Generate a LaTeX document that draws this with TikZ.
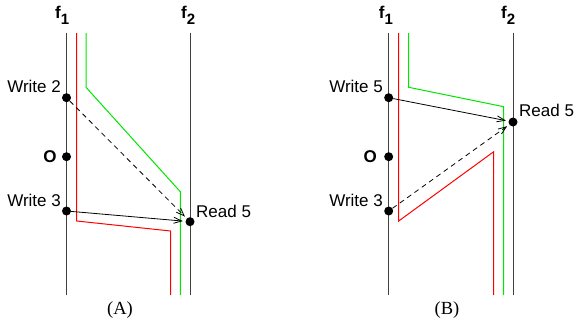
\documentclass[tikz,border=0pt]{standalone}
\usepackage{fontspec}
\setmainfont{Liberation Sans}
\newfontfamily\capfont{Liberation Serif}
\usetikzlibrary{arrows.meta}
\definecolor{tracered}{RGB}{255,0,0}
\definecolor{tracegreen}{RGB}{0,230,0}
\begin{document}
\begin{tikzpicture}[x=1pt,y=-1pt,
  procline/.style={draw=black!75,line width=1pt},
  redpath/.style={draw=tracered,line width=1pt},
  greenpath/.style={draw=tracegreen,line width=1pt},
  event/.style={circle,fill=black,inner sep=0pt,minimum size=9pt},
  lbl/.style={inner sep=0pt,font=\fontsize{17}{18}\selectfont},
  flbl/.style={inner sep=0pt,anchor=base west,font=\fontsize{17}{18}\selectfont\bfseries},
  panelcap/.style={inner sep=0pt,anchor=base,font=\fontsize{18.5}{20}\selectfont\capfont},
  msg/.style={draw=black,line width=0.8pt,shorten >=2.5pt,
    -{Straight Barb[length=8pt,width=6pt]}},
  msgdash/.style={msg,dash pattern=on 5pt off 4pt}]
\useasboundingbox (0,0) rectangle (574,325);

% ---------------- panel (A) ----------------
\coordinate (a1t) at (66.5,33);  \coordinate (a1b) at (66.5,295);
\coordinate (a2t) at (190,33);   \coordinate (a2b) at (190,295);
\draw[procline] (a1t) -- (a1b);
\draw[procline] (a2t) -- (a2b);
\node[flbl] (af1) at (55,18.3) {f\raisebox{-5.7pt}{\fontsize{15}{15}\selectfont 1}};
\node[flbl] (af2) at (181,18.3) {f\raisebox{-5.7pt}{\fontsize{15}{15}\selectfont 2}};

\draw[redpath] (76.7,33) -- (76.7,221) -- (170.7,231) -- (170.7,295);
\draw[greenpath] (86,33) -- (86,87.3) -- (180.3,191.7) -- (180.3,295);

\node[event] (aw2) at (66.5,97.7) {};
\node[event] (ao) at (66.5,156.7) {};
\node[event] (aw3) at (66.5,211) {};
\node[event] (ar5) at (190,221.7) {};

\node[lbl,anchor=base east] (aw2l) at (61,92.3) {Write 2};
\node[lbl,anchor=base east,font=\fontsize{17}{18}\selectfont\bfseries] (aol) at (56.7,162.3) {O};
\node[lbl,anchor=base east] (aw3l) at (61,206) {Write 3};
\node[lbl,anchor=base west] (ar5l) at (196,217) {Read 5};

\draw[msgdash] (aw2) -- (ar5);
\draw[msg] (aw3) -- (ar5);

\node[panelcap] (capa) at (120,314) {(A)};

% ---------------- panel (B) ----------------
\coordinate (b1t) at (388.7,33);  \coordinate (b1b) at (388.7,295);
\coordinate (b2t) at (513,33);    \coordinate (b2b) at (513,295);
\draw[procline] (b1t) -- (b1b);
\draw[procline] (b2t) -- (b2b);
\node[flbl] (bf1) at (378.7,18.3) {f\raisebox{-5.7pt}{\fontsize{15}{15}\selectfont 1}};
\node[flbl] (bf2) at (501,18.3) {f\raisebox{-5.7pt}{\fontsize{15}{15}\selectfont 2}};

\draw[redpath] (398.7,33) -- (398.7,221) -- (493.7,151.7) -- (493.7,295);
\draw[greenpath] (408.7,33) -- (408.7,87.3) -- (503.7,106.7) -- (503.7,295);

\node[event] (bw5) at (388.7,97.7) {};
\node[event] (bo) at (388.7,156.7) {};
\node[event] (bw3) at (388.7,211) {};
\node[event] (br5) at (513,122) {};

\node[lbl,anchor=base east] (bw5l) at (383,92.7) {Write 5};
\node[lbl,anchor=base east,font=\fontsize{17}{18}\selectfont\bfseries] (bol) at (377,162.3) {O};
\node[lbl,anchor=base east] (bw3l) at (383,206) {Write 3};
\node[lbl,anchor=base west] (br5l) at (519,116) {Read 5};

\draw[msg] (bw5) -- (br5);
\draw[msgdash] (bw3) -- (br5);

\node[panelcap] (capb) at (447,314) {(B)};
\end{tikzpicture}
\end{document}
